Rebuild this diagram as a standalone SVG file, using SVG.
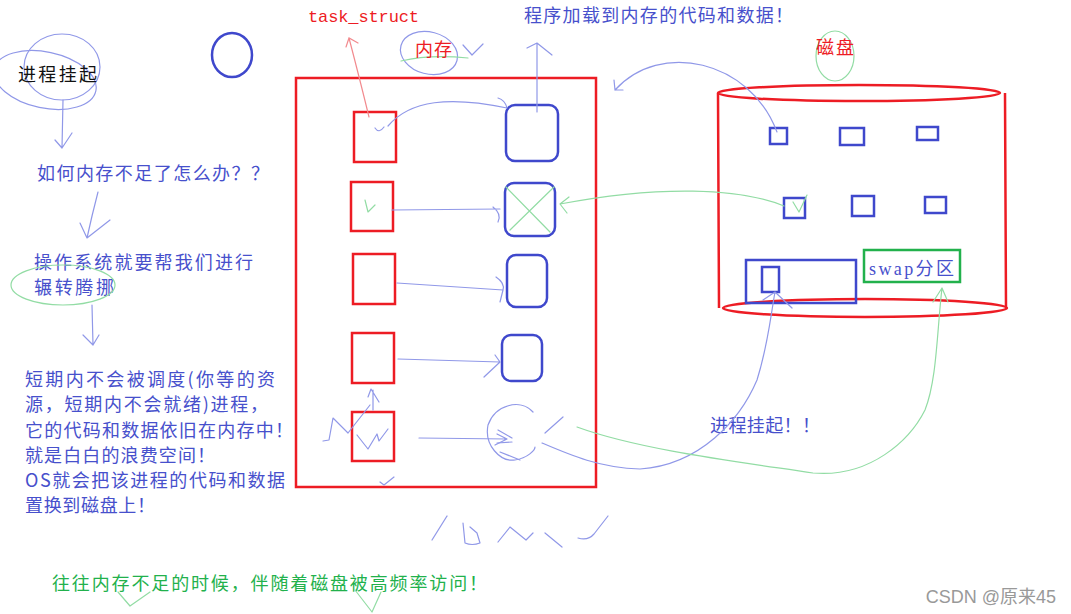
<svg xmlns="http://www.w3.org/2000/svg" width="1071" height="614" viewBox="0 0 1071 614">
<style>
  text { font-family: "Noto Sans CJK SC", "Liberation Sans", sans-serif; font-size: 18px; }
  .b { fill: #4750cc; }
  .r { fill: #ed1c24; }
  .g { fill: #22b14c; }
  .k { fill: #111; }
  .mono { font-family: "Liberation Mono", "Noto Sans CJK SC", monospace; font-size: 17px; }
  .serif { font-family: "Liberation Serif", "Noto Sans CJK SC", serif; }
  .redbox { fill: none; stroke: #ed1c24; stroke-width: 2.5; }
  .bluebox { fill: none; stroke: #3f48cc; stroke-width: 2.5; }
  .greenbox { fill: none; stroke: #22b14c; stroke-width: 2.5; }
  .lb { fill: none; stroke: #9098e8; stroke-width: 1.2; stroke-linecap: round; stroke-linejoin: round; }
  .lg { fill: none; stroke: #92dca4; stroke-width: 1.2; stroke-linecap: round; stroke-linejoin: round; }
  .lr { fill: none; stroke: #f28a8e; stroke-width: 1.2; stroke-linecap: round; }
</style>
<rect width="1071" height="614" fill="#ffffff"/>

<!-- left column text -->
<g id="title-suspend">
  <ellipse cx="62" cy="67" rx="38" ry="33" class="lb"/>
  <ellipse cx="45" cy="80" rx="52" ry="28" transform="rotate(12 45 80)" class="lb"/>
  <text x="18" y="81" class="k" textLength="79">进程挂起</text>
</g>
<g id="circle-top"><ellipse cx="232" cy="55" rx="20" ry="22" class="bluebox"/></g>
<g id="q-memory">
  <text x="37" y="180" class="b" textLength="232">如何内存不足了怎么办？？</text>
</g>
<g id="os-help">
  <text x="34" y="269" class="b" font-size="17" textLength="219">操作系统就要帮我们进行</text>
  <text x="34" y="294" class="b" font-size="17" textLength="80">辗转腾挪</text>
  <ellipse cx="63" cy="285" rx="52" ry="20" class="lg"/>
</g>
<g id="explain">
  <text x="25" y="386" class="b" textLength="250">短期内不会被调度(你等的资</text>
  <text x="25" y="411" class="b" textLength="243">源，短期内不会就绪)进程，</text>
  <text x="25" y="437" class="b" textLength="268">它的代码和数据依旧在内存中！</text>
  <text x="25" y="462" class="b" textLength="190">就是白白的浪费空间！</text>
  <text x="25" y="487" class="b" textLength="260">OS就会把该进程的代码和数据</text>
  <text x="25" y="512" class="b" textLength="130">置换到磁盘上！</text>
</g>
<g id="bottom-note">
  <text x="52" y="590" class="g" textLength="435">往往内存不足的时候，伴随着磁盘被高频率访问！</text>
  <path d="M118 592 L130 606 L150 592" class="lg"/>
  <path d="M355 590 L372 612 L381 592" class="lg"/>
</g>

<!-- memory -->
<g id="memory">
  <rect x="296" y="78" width="300" height="409" class="redbox"/>
  <ellipse cx="429" cy="53" rx="29" ry="21" transform="rotate(15 429 53)" class="lb"/>
  <path d="M401 61 Q 430 54 468 58" class="lg"/>
  <path d="M463 45 L472 55 L483 44" class="lb"/>
  <text x="415" y="56" class="r" textLength="37">内存</text>
</g>
<g id="task-struct-label"><text x="308" y="22" class="r mono" textLength="111">task_struct</text></g>
<g id="load-label"><text x="524" y="22" class="b" textLength="269">程序加载到内存的代码和数据！</text></g>

<g id="pcb1"><rect x="354" y="112" width="42" height="50" class="redbox"/></g>
<g id="pcb2"><rect x="351" y="182" width="42" height="49" class="redbox"/>
  <path d="M365 200 L368 212 L375 205" class="lg"/></g>
<g id="pcb3"><rect x="353" y="254" width="42" height="50" class="redbox"/></g>
<g id="pcb4"><rect x="352" y="333" width="42" height="50" class="redbox"/></g>
<g id="pcb5"><rect x="352" y="412" width="42" height="49" class="redbox"/>
  <path d="M357 435 L368 449 L377 434 L379 441 L388 429" class="lb"/></g>

<g id="code1"><rect x="506" y="105" width="52" height="56" rx="9" class="bluebox"/></g>
<g id="code2"><rect x="505" y="183" width="50" height="53" rx="9" class="bluebox"/>
  <path d="M506 187 L550 232 M554 187 L510 230" class="lg"/></g>
<g id="code3"><rect x="507" y="255" width="40" height="52" rx="9" class="bluebox"/></g>
<g id="code4"><rect x="502" y="335" width="40" height="46" rx="9" class="bluebox"/></g>
<g id="code5-scribble">
  <path d="M533 412 C 520 398 495 405 488 425 C 484 445 500 462 515 460 C 528 458 535 450 535 447" class="lb"/>
  <path d="M498 430 L512 438 M497 443 L512 442 M500 452 L520 460" class="lb"/>
  <path d="M545 433 L563 417" class="lb"/>
</g>

<!-- disk -->
<g id="disk">
  <ellipse cx="859" cy="93" rx="141" ry="8" class="redbox"/>
  <path d="M718 93 L719 308 M1005 93 L1006 308" class="redbox"/>
  <ellipse cx="865" cy="308" rx="142" ry="9" class="redbox"/>
  <ellipse cx="835" cy="56" rx="19" ry="25" class="lg"/>
  <text x="816" y="54" class="r" textLength="38">磁盘</text>
</g>
<g id="disk-blocks">
  <rect x="770" y="128" width="17" height="16" class="bluebox"/>
  <rect x="840" y="128" width="24" height="17" class="bluebox"/>
  <rect x="917" y="127" width="21" height="13" class="bluebox"/>
  <rect x="784" y="198" width="21" height="20" class="bluebox"/>
  <rect x="852" y="196" width="22" height="20" class="bluebox"/>
  <rect x="925" y="197" width="21" height="16" class="bluebox"/>
  <path d="M793 202 L799 212 L807 195" class="lg"/>
</g>
<g id="swap-area">
  <rect x="746" y="260" width="110" height="43" class="bluebox"/>
  <rect x="762" y="267" width="17" height="25" class="bluebox"/>
</g>
<g id="swap-label">
  <rect x="864" y="250" width="96" height="32" class="greenbox"/>
  <text x="869" y="275" class="b serif" font-size="17" textLength="85">swap分区</text>
</g>
<g id="suspend-label"><text x="710" y="432" class="b" textLength="110">进程挂起！！</text></g>
<g id="scribble-10ms">
  <path d="M432 540 L447 516" class="lb"/>
  <path d="M463 523 L465 543 Q 472 546 480 543 L477 533 L470 527" class="lb"/>
  <path d="M498 542 L510 527 L526 540 L533 533" class="lb"/>
  <path d="M545 533 L562 547" class="lb"/>
  <path d="M578 538 Q 588 541 594 534 L608 516" class="lb"/>
</g>
<g id="watermark"><text x="1056" y="603" text-anchor="end" fill="#999" font-size="12" style="font-family:'Liberation Sans','Noto Sans CJK SC',sans-serif">CSDN @原来45</text></g>

<!-- connectors -->
<g id="connectors">
  <path d="M63 100 L62 148 M55 140 L62 148 L72 133" class="lb"/>
  <path d="M98 192 Q 92 215 87 238 M80 223 L87 238 L110 220" class="lb"/>
  <path d="M92 305 L93 345 M83 335 L93 345 L99 335" class="lb"/>
  <path d="M369 117 Q 360 80 349 38 M346 47 L349 38 L358 43" class="lr"/>
  <path d="M537 112 L537 43 M527 48 L537 43 L552 55" class="lb"/>
  <path d="M375 128 Q 379 134 384 127 M388 126 C 410 100 450 96 507 108 M498 98 Q 505 100 507 108" class="lb"/>
  <path d="M392 210 L500 209 M493 207 Q 502 214 498 222" class="lb"/>
  <path d="M397 283 L503 290 M496 277 Q 505 283 503 290 L500 302" class="lb"/>
  <path d="M398 359 L500 362 M495 355 L500 362 L484 377" class="lb"/>
  <path d="M419 438 L507 439 M497 434 L507 439 L495 445" class="lb"/>
  <path d="M323 441 L329 440 L333 418 L348 433 L370 405" class="lb"/>
  <path d="M373 410 L373 390 M368 397 L371 389 L379 402" class="lb"/>
  <path d="M380 482 L384 485 L394 477" class="lb"/>
  <path d="M777 132 C 750 60 660 40 615 90 M614 80 L615 90 L623 90" class="lb"/>
  <path d="M784 206 C 740 188 660 185 560 204 M569 197 L560 204 L567 213" class="lg"/>
  <path d="M542 443 C 570 455 600 468 640 469 C 700 465 740 420 757 380 C 768 345 770 320 775 292 M763 300 L775 292 L792 308" class="lb"/>
  <path d="M577 427 C 640 450 740 462 813 473 C 870 478 910 440 925 410 C 937 380 937 330 942 288 M933 302 L942 288 L948 302" class="lg"/>
</g>
</svg>
